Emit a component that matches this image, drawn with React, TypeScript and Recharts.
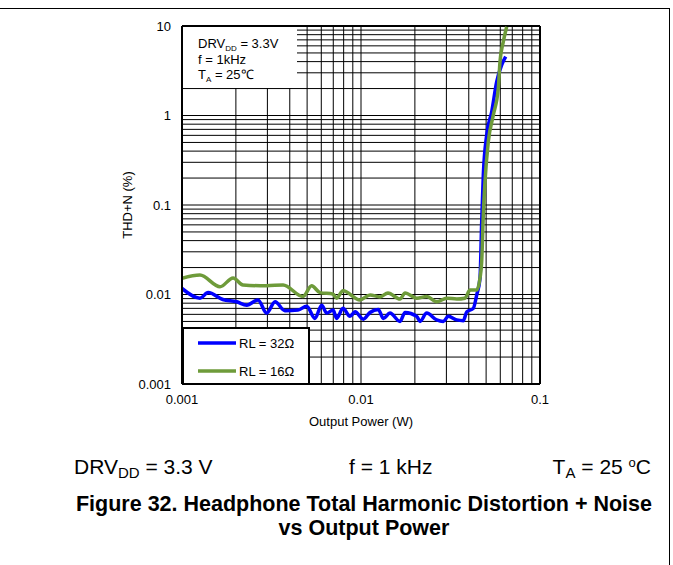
import React from 'react';
import { LineChart, Line, XAxis, YAxis, ReferenceLine } from 'recharts';

// Output power (W) and THD+N (%)
const rl32Power = [0.001, 0.00126, 0.0014, 0.00169, 0.00202, 0.0023, 0.00266, 0.00297, 0.00331, 0.00376, 0.00445, 0.00497, 0.00553, 0.00603, 0.00643, 0.00698, 0.00731, 0.00793, 0.00868, 0.00926, 0.0103, 0.01123, 0.0125, 0.01332, 0.01452, 0.01652, 0.01762, 0.02048, 0.02136, 0.02328, 0.02648, 0.02883, 0.03074, 0.03424, 0.03728, 0.03896, 0.04241, 0.04431, 0.04622, 0.04724, 0.04823, 0.05037, 0.05373, 0.05731, 0.0611, 0.06433];
const rl32Thd = [0.0117, 0.0091, 0.0105, 0.0088, 0.0083, 0.0076, 0.0087, 0.0062, 0.0083, 0.0066, 0.0067, 0.0074, 0.0054, 0.0076, 0.0062, 0.0067, 0.0054, 0.007, 0.0057, 0.0064, 0.0053, 0.0063, 0.0068, 0.0054, 0.0062, 0.005, 0.0063, 0.0057, 0.005, 0.0062, 0.0052, 0.005, 0.0057, 0.0052, 0.0051, 0.0064, 0.007, 0.0099, 0.0152, 0.0651, 0.216, 0.606, 1.1, 2.39, 3.67, 4.54];

const rl16Power = [0.001, 0.00126, 0.00163, 0.00193, 0.00219, 0.00297, 0.00367, 0.00474, 0.0053, 0.0059, 0.00698, 0.00731, 0.00793, 0.00987, 0.01123, 0.01277, 0.01415, 0.01652, 0.01762, 0.02048, 0.02328, 0.02648, 0.03011, 0.03424, 0.03811, 0.04064, 0.04431, 0.04622, 0.04724, 0.04823, 0.04929, 0.05143, 0.05483, 0.05848, 0.05977, 0.06237, 0.06516];
const rl16Thd = [0.0152, 0.0165, 0.0122, 0.0153, 0.0128, 0.0125, 0.0128, 0.0095, 0.0125, 0.0105, 0.0101, 0.0091, 0.011, 0.0087, 0.0099, 0.0094, 0.0104, 0.0089, 0.0104, 0.0091, 0.0095, 0.0083, 0.0091, 0.0089, 0.0091, 0.0112, 0.0112, 0.0153, 0.0233, 0.0773, 0.182, 0.51, 1.01, 2.01, 3.99, 6.68, 9.8];

const xTicks = [0.001, 0.01, 0.1];
const yTicks = [0.001, 0.01, 0.1, 1, 10];
const xTickLabels = ['0.001', '0.01', '0.1'];
const yTickLabels = ['0.001', '0.01', '0.1', '1', '10'];
const gridMultipliers = [1, 2, 3, 4, 5, 6, 7, 8, 9];

const seriesNames = ['RL = 32Ω', 'RL = 16Ω'];
const seriesColors = ['#0000ff', '#6e9b3a'];

const rl32 = rl32Power.map((p, i) => ({ p, v: rl32Thd[i] }));
const rl16 = rl16Power.map((p, i) => ({ p, v: rl16Thd[i] }));

const gridFrom = (decades: number[]) => {
  const out: number[] = [];
  decades.slice(0, -1).forEach((d) => gridMultipliers.forEach((m) => out.push(Number((d * m).toPrecision(3)))));
  return out;
};
const xGrid = gridFrom(xTicks).slice(1);
const yGrid = gridFrom(yTicks).slice(1);

const FONT = '"Liberation Sans", Arial, sans-serif';

const fmtX = (v: number) => xTickLabels[xTicks.indexOf(v)] ?? String(v);
const fmtY = (v: number) => yTickLabels[yTicks.indexOf(v)] ?? String(v);

export default function App() {
  return (
    <div style={{ position: 'absolute', left: 0, top: 0, width: 673, height: 565, background: '#fff', fontFamily: FONT, overflow: 'hidden' }}>
      <div style={{ position: 'absolute', left: -2, top: 8, width: 672, height: 570, borderTop: '1px solid #000', borderRight: '1px solid #000', boxSizing: 'border-box' }} />
      <div style={{ position: 'absolute', left: 0, top: 0 }}>
        <LineChart width={673} height={565} margin={{ top: 26, right: 133, bottom: 141, left: 0 }}>
          <XAxis
            type="number"
            dataKey="p"
            scale="log"
            domain={[0.001, 0.1]}
            ticks={xTicks}
            interval={0}
            allowDataOverflow
            tickLine={false}
            tickSize={0}
            tickMargin={11}
            height={40}
            axisLine={{ stroke: '#000', strokeWidth: 2 }}
            tick={{ fill: '#000', fontSize: 13, fontFamily: FONT }}
            tickFormatter={fmtX}
          />
          <YAxis
            type="number"
            dataKey="v"
            scale="log"
            domain={[0.001, 10]}
            ticks={yTicks}
            interval={0}
            allowDataOverflow
            width={182}
            tickLine={false}
            tickSize={0}
            tickMargin={11}
            axisLine={{ stroke: '#000', strokeWidth: 2 }}
            tick={{ fill: '#000', fontSize: 13, fontFamily: FONT }}
            tickFormatter={fmtY}
          />
          {xGrid.map((v) => (
            <ReferenceLine key={'x' + v} x={v} stroke="#000" strokeWidth={1} ifOverflow="extendDomain" />
          ))}
          {yGrid.map((v) => (
            <ReferenceLine key={'y' + v} y={v} stroke="#000" strokeWidth={1} ifOverflow="extendDomain" />
          ))}
          <ReferenceLine x={0.1} stroke="#000" strokeWidth={2} />
          <ReferenceLine y={10} stroke="#000" strokeWidth={2} />
          <Line data={rl32} dataKey="v" name={seriesNames[0]} stroke={seriesColors[0]} strokeWidth={3.5} dot={false} type="monotone" isAnimationActive={false} strokeLinejoin="round" />
          <Line data={rl16} dataKey="v" name={seriesNames[1]} stroke={seriesColors[1]} strokeWidth={3.5} dot={false} type="monotone" isAnimationActive={false} strokeLinejoin="round" />
        </LineChart>
      </div>

      {/* Conditions box */}
      <div style={{ position: 'absolute', left: 183, top: 27, width: 114, height: 61, background: '#fff' }} />
      <div style={{ position: 'absolute', left: 198, top: 36.5, fontSize: 13, lineHeight: '14.5px', color: '#000', whiteSpace: 'nowrap' }}>
        <div>DRV<sub style={{ fontSize: 8, verticalAlign: 'baseline', position: 'relative', top: 3 }}>DD</sub> = 3.3V</div>
        <div>f = 1kHz</div>
        <div>T<sub style={{ fontSize: 8, verticalAlign: 'baseline', position: 'relative', top: 3 }}>A</sub> = 25℃</div>
      </div>

      {/* Legend */}
      <div style={{ position: 'absolute', left: 182, top: 327, width: 128, height: 58, border: '2px solid #000', background: '#fff', boxSizing: 'border-box' }}>
        {seriesNames.map((n, i) => (
          <div key={n} style={{ position: 'absolute', left: 14, top: i === 0 ? 5 : 33, height: 18, display: 'flex', alignItems: 'center', whiteSpace: 'nowrap', fontSize: 13 }}>
            <svg width={38} height={6} style={{ display: 'block' }}>
              <line x1={0} y1={3} x2={38} y2={3} stroke={seriesColors[i]} strokeWidth={3.5} />
            </svg>
            <span style={{ marginLeft: 3 }}>{n}</span>
          </div>
        ))}
      </div>

      {/* Axis titles */}
      <div style={{ position: 'absolute', left: 261, width: 200, top: 414, textAlign: 'center', fontSize: 13, lineHeight: '15px' }}>Output Power (W)</div>
      <div style={{ position: 'absolute', left: 127, top: 205, transform: 'translate(-50%, -50%) rotate(-90deg)', fontSize: 13, lineHeight: '15px', whiteSpace: 'nowrap' }}>THD+N (%)</div>

      {/* Conditions row */}
      <div style={{ position: 'absolute', left: 74, top: 454, fontSize: 21, lineHeight: '26px', whiteSpace: 'nowrap' }}>
        DRV<sub style={{ fontSize: 15, verticalAlign: 'baseline', position: 'relative', top: 4 }}>DD</sub> = 3.3 V
      </div>
      <div style={{ position: 'absolute', left: 349, top: 454, fontSize: 21, lineHeight: '26px', whiteSpace: 'nowrap' }}>f = 1 kHz</div>
      <div style={{ position: 'absolute', right: 22, top: 454, fontSize: 21, lineHeight: '26px', whiteSpace: 'nowrap' }}>
        T<sub style={{ fontSize: 15, verticalAlign: 'baseline', position: 'relative', top: 4 }}>A</sub> = 25 <sup style={{ fontSize: 13, verticalAlign: 'baseline', position: 'relative', top: -7 }}>o</sup>C
      </div>

      {/* Caption */}
      <div style={{ position: 'absolute', left: 39, width: 650, top: 492, textAlign: 'center', fontSize: 21.5, fontWeight: 'bold', lineHeight: '24px' }}>
        <div>Figure 32. Headphone Total Harmonic Distortion + Noise</div>
        <div>vs Output Power</div>
      </div>
    </div>
  );
}
